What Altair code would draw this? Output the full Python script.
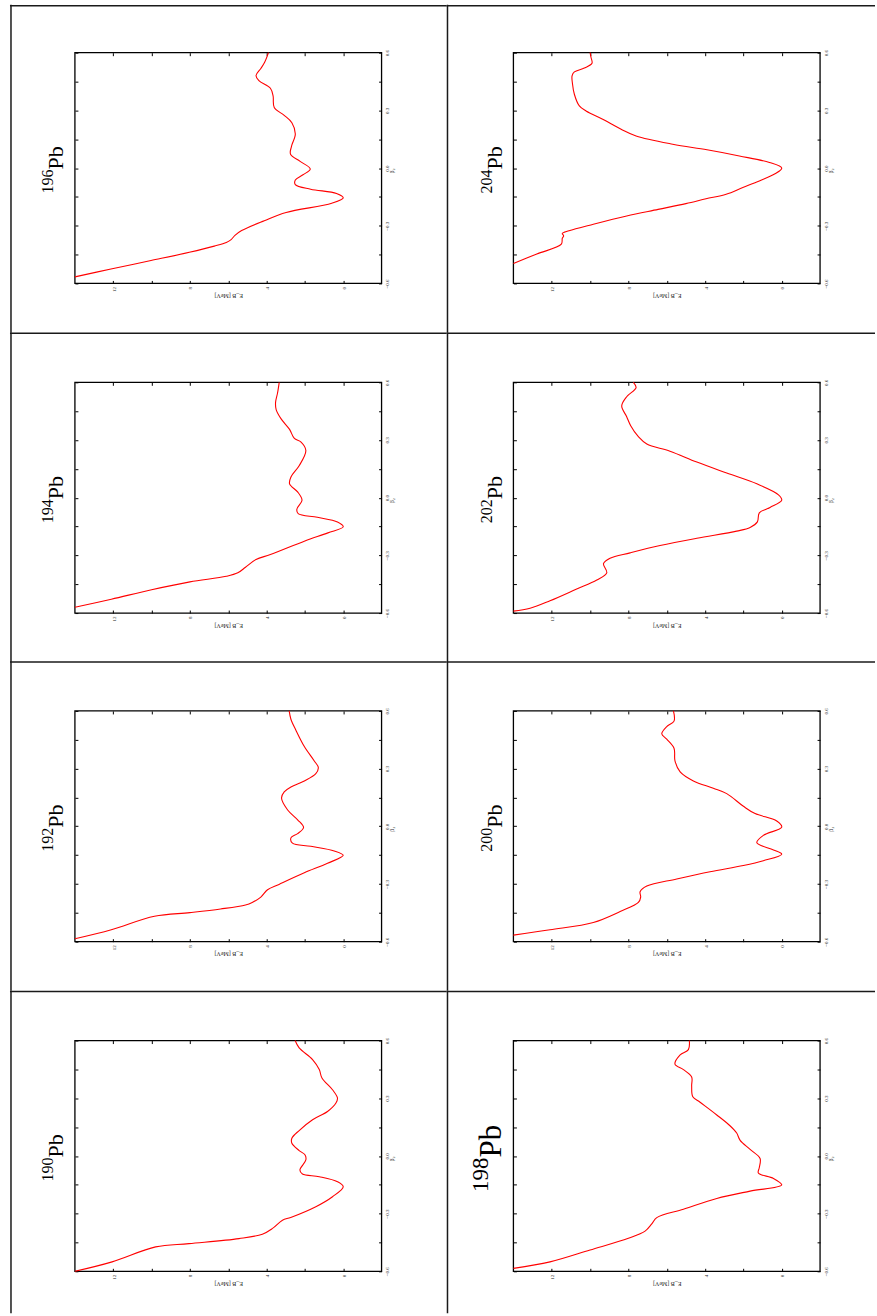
import altair as alt
import pandas as pd

# ---- plot frame limits and ticks -------------------------------------------
E_LO, E_HI = -2.0, 14.0
B_LO, B_HI = -0.6, 0.6
E_TICKS = [0, 2, 4, 6, 8, 10, 12]
B_TICKS = [-0.6, -0.45, -0.3, -0.15, 0.0, 0.15, 0.3, 0.45, 0.6]

# ---- binding energy curves E_B(beta2) ---------------------------------------
PB190_BETA = [-0.600, -0.551, -0.473, -0.456, -0.430, -0.407, -0.377, -0.334, -0.320, -0.264,
              -0.212, -0.160, -0.134, -0.108, -0.094, -0.073, -0.021, 0.005, 0.028, 0.066,
              0.092, 0.132, 0.188, 0.231, 0.275, 0.301, 0.344, 0.405, 0.449, 0.501, 0.562, 0.600]
PB190_E = [14.0, 12.06, 9.79, 8.05, 5.44, 4.22, 3.69, 3.17, 2.74, 1.43,
           0.56, 0.0, 0.30, 1.25, 2.13, 2.26, 1.95, 1.99, 2.30, 2.68,
           2.68, 2.30, 1.60, 0.82, 0.38, 0.30, 0.56, 1.11, 1.25, 1.60, 2.30, 2.51]

PB192_BETA = [-0.585, -0.538, -0.468, -0.449, -0.430, -0.409, -0.396, -0.368, -0.330, -0.302,
              -0.242, -0.192, -0.151, -0.128, -0.104, -0.087, -0.060, -0.038, -0.006, 0.034,
              0.085, 0.147, 0.179, 0.204, 0.236, 0.274, 0.306, 0.340, 0.415, 0.500, 0.557, 0.600]
PB192_E = [14.0, 12.1, 9.85, 8.0, 6.4, 5.1, 4.75, 4.3, 3.95, 3.35,
           2.03, 0.82, 0.0, 0.47, 1.69, 2.65, 2.73, 2.38, 2.07, 2.38,
           2.9, 3.22, 3.08, 2.73, 2.03, 1.43, 1.30, 1.51, 2.03, 2.47, 2.73, 2.82]

PB194_BETA = [-0.570, -0.528, -0.479, -0.438, -0.409, -0.391, -0.362, -0.321, -0.296, -0.225,
              -0.183, -0.151, -0.126, -0.102, -0.083, -0.060, -0.013, 0.030, 0.072, 0.109,
              0.166, 0.245, 0.289, 0.308, 0.355, 0.411, 0.458, 0.496, 0.543, 0.600]
PB194_E = [14.0, 12.1, 10.0, 8.0, 6.1, 5.5, 5.1, 4.55, 3.8, 2.0,
           0.8, 0.0, 0.3, 1.35, 2.35, 2.42, 2.15, 2.38, 2.8, 2.72,
           2.3, 1.95, 2.2, 2.55, 2.8, 3.25, 3.5, 3.53, 3.43, 3.34]

PB196_BETA = [-0.566, -0.525, -0.481, -0.438, -0.406, -0.387, -0.372, -0.350, -0.325, -0.274,
              -0.231, -0.183, -0.155, -0.132, -0.110, -0.086, -0.062, -0.035, -0.005, 0.035,
              0.072, 0.113, 0.177, 0.236, 0.274, 0.315, 0.375, 0.415, 0.455, 0.481, 0.518,
              0.550, 0.600]
PB196_E = [14.0, 12.12, 10.03, 8.03, 6.73, 6.1, 5.85, 5.65, 5.3, 4.12,
           2.98, 0.6, 0.0, 0.35, 1.7, 2.5, 2.5, 2.1, 1.72, 2.25,
           2.75, 2.7, 2.5, 2.68, 3.08, 3.6, 3.66, 3.8, 4.4, 4.55, 4.3,
           4.1, 3.9]

PB198_BETA = [-0.585, -0.551, -0.489, -0.428, -0.391, -0.353, -0.321, -0.277, -0.221, -0.183,
              -0.151, -0.117, -0.089, -0.060, -0.013, 0.034, 0.081, 0.119, 0.157, 0.213,
              0.279, 0.308, 0.364, 0.411, 0.449, 0.477, 0.525, 0.553, 0.600]
PB198_E = [14.0, 12.09, 10.0, 8.0, 7.13, 6.78, 6.52, 5.13, 3.39, 1.65,
           0.0, 0.43, 1.22, 1.17, 1.13, 1.65, 2.17, 2.35, 2.70, 3.39,
           4.26, 4.64, 4.70, 4.70, 5.13, 5.57, 5.30, 4.87, 4.82]

PB200_BETA = [-0.566, -0.538, -0.500, -0.443, -0.396, -0.368, -0.340, -0.311, -0.274, -0.236,
              -0.204, -0.179, -0.145, -0.123, -0.085, -0.047, -0.004, 0.028, 0.066, 0.104,
              0.170, 0.198, 0.236, 0.283, 0.340, 0.406, 0.453, 0.481, 0.519, 0.547, 0.600]
PB200_E = [14.0, 12.09, 9.83, 8.43, 7.48, 7.36, 7.39, 7.04, 5.48, 3.74,
           2.0, 0.96, 0.0, 0.43, 1.30, 0.96, 0.0, 0.26, 1.39, 2.0,
           2.87, 3.57, 4.61, 5.30, 5.57, 5.62, 6.0, 6.26, 6.0, 5.62, 5.65]

PB202_BETA = [-0.590, -0.575, -0.536, -0.475, -0.428, -0.391, -0.343, -0.315, -0.287, -0.249,
              -0.211, -0.174, -0.155, -0.126, -0.079, -0.051, -0.013, 0.015, 0.072, 0.128,
              0.185, 0.242, 0.279, 0.317, 0.374, 0.421, 0.477, 0.525, 0.572, 0.600]
PB202_E = [14.0, 13.13, 12.09, 10.7, 9.65, 9.13, 9.3, 8.96, 7.91, 6.35,
           4.43, 2.35, 1.65, 1.27, 1.17, 0.61, 0.0, 0.17, 1.30, 2.87,
           4.43, 5.83, 7.04, 7.48, 7.88, 8.09, 8.35, 8.09, 7.6, 7.74]

PB204_BETA = [-0.496, -0.447, -0.396, -0.365, -0.353, -0.340, -0.326, -0.292, -0.249, -0.215,
              -0.185, -0.160, -0.136, -0.101, -0.067, -0.030, 0.0, 0.029, 0.063, 0.095,
              0.124, 0.167, 0.202, 0.254, 0.297, 0.323, 0.384, 0.440, 0.479, 0.500,
              0.520, 0.545, 0.575, 0.600]
PB204_E = [14.0, 12.78, 11.5, 11.45, 11.38, 11.45, 11.1, 9.83, 8.09, 6.45,
           5.0, 3.95, 2.9, 2.03, 1.17, 0.35, 0.0, 0.64, 2.21, 3.9,
           5.69, 7.6, 8.38, 9.34, 10.21, 10.56, 10.82, 10.92, 10.94, 10.82,
           10.3, 9.9, 9.95, 10.0]

# panel grid: rows top to bottom, columns left to right
GRID = [
    [("196", PB196_BETA, PB196_E), ("204", PB204_BETA, PB204_E)],
    [("194", PB194_BETA, PB194_E), ("202", PB202_BETA, PB202_E)],
    [("192", PB192_BETA, PB192_E), ("200", PB200_BETA, PB200_E)],
    [("190", PB190_BETA, PB190_E), ("198", PB198_BETA, PB198_E)],
]

SERIF = "Liberation Serif"
FRAME_W, FRAME_H = 307, 231
COL_W = [437, 429]
COL_L = [65, 67]
ROW_H = [328, 329, 330, 323]
ROW_T = [48, 50, 50, 50]
TICK = 3


def panel(mass, beta, energy, row, col):
    W, H, L, T = COL_W[col], ROW_H[row], COL_L[col], ROW_T[row]
    R = W - L - FRAME_W          # space right of the frame
    B = H - T - FRAME_H          # space below the frame

    ke = FRAME_W / (E_HI - E_LO)
    kb = FRAME_H / (B_HI - B_LO)
    xs = alt.Scale(domain=[E_LO - R / ke, E_HI + L / ke], reverse=True, nice=False, zero=False)
    ys = alt.Scale(domain=[B_LO - B / kb, B_HI + T / kb], nice=False, zero=False)

    e_axis = alt.Axis(
        orient="bottom", values=E_TICKS, offset=-B - TICK, tickSize=TICK, tickColor="black",
        domain=False, grid=False, labelOverlap=False, labelBound=False, labelFlush=False,
        labelExpr="datum.value % 4 == 0 ? datum.label : ''",
        labelAngle=270, labelAlign="right", labelBaseline="middle", labelPadding=3,
        labelFontSize=5, labelColor="#222",
        title="E_B [MeV]", titleAngle=180, titleX=L + FRAME_W / 2, titleY=15,
        titleAlign="center", titleBaseline="middle", titleFontSize=6,
        titleFontWeight="normal", titleColor="#222",
    )
    b_axis = alt.Axis(
        orient="right", values=B_TICKS, offset=-R - TICK, tickSize=TICK, tickColor="black",
        domain=False, grid=False, labelOverlap=False, labelBound=False, labelFlush=False,
        labelExpr="abs(round(datum.value * 100)) % 30 == 0 ? format(datum.value, '.1f') : ''",
        labelAngle=270, labelAlign="center", labelBaseline="top", labelPadding=3,
        labelFontSize=5, labelColor="#222",
        title="β₂", titleAngle=270, titleX=13, titleY=T + 118,
        titleAlign="center", titleBaseline="middle", titleFontSize=6,
        titleFontWeight="normal", titleColor="#222",
    )
    e_top = alt.Axis(orient="top", values=E_TICKS, offset=-T - TICK, tickSize=TICK,
                     tickColor="black", domain=False, grid=False, labels=False, title="")
    b_left = alt.Axis(orient="left", values=B_TICKS, offset=-L - TICK, tickSize=TICK,
                      tickColor="black", domain=False, grid=False, labels=False, title="")

    frame = alt.Chart(alt.Data(values=[{"e0": E_LO, "e1": E_HI, "b0": B_LO, "b1": B_HI}])).mark_rect(
        filled=False, color="black", strokeWidth=1.3
    ).encode(
        x=alt.X("e0:Q", scale=xs, axis=e_axis), x2="e1:Q",
        y=alt.Y("b0:Q", scale=ys, axis=b_axis), y2="b1:Q",
    )

    df = pd.DataFrame({"beta": beta, "E": energy, "i": range(len(beta))})
    curve = alt.Chart(df).mark_line(
        color="#ff0000", strokeWidth=1.1, interpolate="catmull-rom"
    ).encode(
        x=alt.X("E:Q", scale=xs, axis=e_top),
        y=alt.Y("beta:Q", scale=ys, axis=b_left),
        order="i:Q",
    )

    big = mass == "198"
    base_x = (55 if big else 53) if col == 0 else (55 if big else 56)
    raise_px = 13 if big else 10
    lbl = alt.Data(values=[{"m": mass, "el": "Pb"}])
    pb = alt.Chart(lbl).mark_text(
        angle=270, align="left", baseline="alphabetic", font=SERIF,
        fontSize=31 if big else 22, color="black",
    ).encode(x=alt.value(base_x), y=alt.value(T + 117), text="el:N")
    sup = alt.Chart(lbl).mark_text(
        angle=270, align="right", baseline="alphabetic", font=SERIF,
        fontSize=23 if big else 16, color="black",
    ).encode(x=alt.value(base_x - raise_px), y=alt.value(T + 117), text="m:N")

    # cell borders (left and top edge of every cell), kept inside the cell
    edge = alt.Data(values=[{"z": 0}])
    left_edge = alt.Chart(edge).mark_rule(color="#1a1a1a", strokeWidth=1.5).encode(
        x=alt.value(1), y=alt.value(0), y2=alt.value(H))
    top_edge = alt.Chart(edge).mark_rule(color="#1a1a1a", strokeWidth=1.5).encode(
        x=alt.value(0), x2=alt.value(W), y=alt.value(1))

    return alt.layer(frame, curve, sup, pb, left_edge, top_edge).resolve_axis(
        x="independent", y="independent"
    ).properties(width=W, height=H)


cells = [panel(m, b, e, r, c) for r in range(4) for c, (m, b, e) in enumerate(GRID[r])]

chart = alt.concat(
    *cells, columns=2, spacing=0, bounds="flush", align="each"
).properties(
    padding={"left": 8, "top": 2, "right": 0, "bottom": 0},
    background="white",
).configure_view(
    stroke="transparent"
).configure_axis(
    labelFont=SERIF, titleFont=SERIF
)

chart.save("out.html", embed_options={"renderer": "svg", "actions": False})
